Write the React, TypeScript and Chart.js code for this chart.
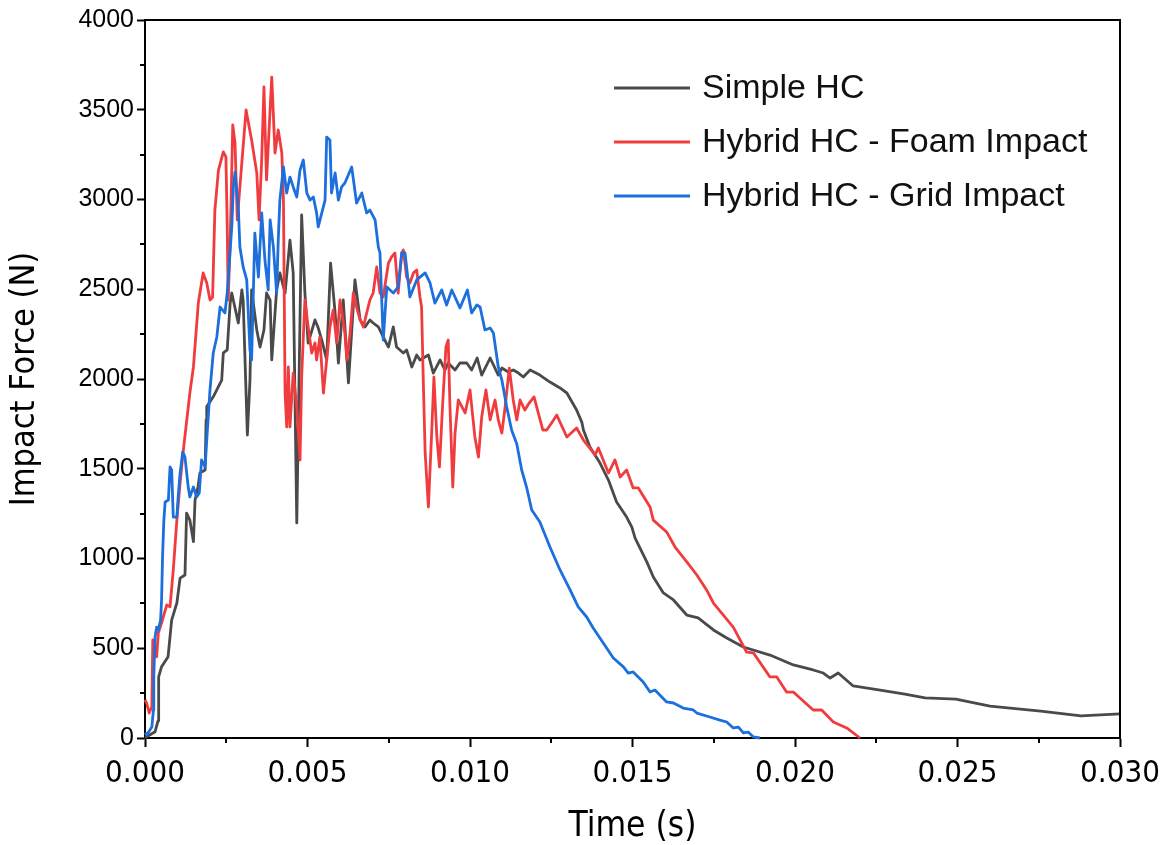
import React, { useEffect, useRef } from "react";
import { Chart, registerables } from "chart.js";

Chart.register(...registerables);

// ---- Data (time in seconds, force in newtons) ----
const simpleTime = [
  0, 0.00005, 0.00031, 0.0004, 0.00042, 0.00051, 0.00071, 0.00082, 0.00098, 0.00108,
  0.00123, 0.00128, 0.00138, 0.00149, 0.00154, 0.00163, 0.00169, 0.00185, 0.00188, 0.0019,
  0.0021, 0.00236, 0.00241, 0.00253, 0.00262, 0.00267, 0.00287, 0.00298, 0.00302, 0.00315,
  0.00323, 0.00328, 0.00344, 0.00354, 0.00366, 0.00374, 0.00385, 0.0039, 0.00405, 0.00415,
  0.00431, 0.00446, 0.00456, 0.00467, 0.00482, 0.00492, 0.00502, 0.00523, 0.00532, 0.00544,
  0.00559, 0.00571, 0.00585, 0.00595, 0.0061, 0.00626, 0.00646, 0.00662, 0.00677, 0.00692,
  0.00702, 0.00718, 0.00733, 0.00749, 0.00764, 0.00774, 0.00795, 0.00805, 0.00821, 0.00836,
  0.00846, 0.00872, 0.00887, 0.00908, 0.00923, 0.00933, 0.00954, 0.00969, 0.0099, 0.01005,
  0.01022, 0.01036, 0.01062, 0.01087, 0.01098, 0.01118, 0.01133, 0.01149, 0.01164, 0.01185,
  0.01215, 0.01246, 0.01277, 0.01298, 0.01328, 0.01344, 0.01349, 0.01369, 0.014, 0.01426,
  0.01451, 0.01482, 0.01498, 0.01508, 0.01544, 0.01564, 0.01595, 0.01626, 0.01667, 0.01702,
  0.01749, 0.0179, 0.01841, 0.01923, 0.01995, 0.02056, 0.02087, 0.02108, 0.02133, 0.02179,
  0.02262, 0.02338, 0.024, 0.02495, 0.026, 0.02756, 0.0288, 0.03,
];
const simpleForce = [
  0, 7, 35, 95, 340, 397, 453, 657, 752, 891,
  908, 1253, 1214, 1094, 1326, 1398, 1476, 1493, 1772, 1846,
  1901, 1994, 2145, 2162, 2423, 2479, 2312, 2496, 2440, 1688,
  1994, 2496, 2273, 2178, 2273, 2479, 2440, 2106, 2496, 2591,
  2479, 2774, 2591, 1198, 2914, 2479, 2200, 2329, 2290, 2217,
  2106, 2646, 2368, 2089, 2440, 1978, 2552, 2329, 2290, 2329,
  2312, 2290, 2234, 2178, 2290, 2178, 2145, 2162, 2067, 2134,
  2106, 2134, 2033, 2106, 2050, 2089, 2050, 2089, 2089, 2050,
  2117, 2022, 2117, 2022, 2061, 2039, 2050, 2033, 2011, 2050,
  2022, 1983, 1950, 1922, 1827, 1760, 1716, 1621, 1532, 1437,
  1315, 1231, 1175, 1114, 981, 897, 808, 769, 685, 669,
  602, 557, 507, 462, 407, 379, 362, 334, 362, 290,
  267, 245, 223, 217, 178, 150, 123, 134,
];

const foamTime = [
  0, 0.00005, 0.00013, 0.00021, 0.00024, 0.00031, 0.00036, 0.00041, 0.00051, 0.00067,
  0.00077, 0.00087, 0.00098, 0.00108, 0.00118, 0.00138, 0.00149, 0.00164, 0.00179, 0.0019,
  0.002, 0.00208, 0.00215, 0.00226, 0.00241, 0.00249, 0.00253, 0.00256, 0.00262, 0.0027,
  0.00277, 0.00284, 0.00292, 0.00311, 0.00328, 0.00344, 0.00351, 0.00359, 0.00366, 0.00374,
  0.0039, 0.004, 0.0041, 0.00421, 0.00426, 0.00431, 0.00436, 0.00441, 0.00446, 0.00456,
  0.00467, 0.00477, 0.00482, 0.00492, 0.00502, 0.00513, 0.00523, 0.00528, 0.00538, 0.00549,
  0.00559, 0.00569, 0.00579, 0.0059, 0.006, 0.00615, 0.00621, 0.00631, 0.00641, 0.00651,
  0.00662, 0.00672, 0.00682, 0.00692, 0.00702, 0.00713, 0.00723, 0.00733, 0.00749, 0.00759,
  0.00769, 0.00779, 0.0079, 0.00795, 0.00805, 0.00815, 0.00826, 0.00836, 0.00846, 0.00851,
  0.00856, 0.00862, 0.00872, 0.00882, 0.00889, 0.00898, 0.00906, 0.00916, 0.00926, 0.00933,
  0.00938, 0.00947, 0.00954, 0.00964, 0.00985, 0.01, 0.01015, 0.01026, 0.01036, 0.01049,
  0.01062, 0.01077, 0.01087, 0.01098, 0.01108, 0.01121, 0.01133, 0.01144, 0.01154, 0.01169,
  0.01182, 0.01197, 0.0121, 0.01224, 0.01236, 0.01251, 0.01267, 0.01298, 0.01328, 0.01349,
  0.01385, 0.01395, 0.01426, 0.01446, 0.01462, 0.01482, 0.01502, 0.01518, 0.01554, 0.01564,
  0.01605, 0.01631, 0.01667, 0.01698, 0.01728, 0.01749, 0.0181, 0.01851, 0.01872, 0.01923,
  0.01944, 0.01974, 0.01995, 0.02056, 0.02082, 0.02118, 0.02159, 0.022,
];
const foamForce = [
  212, 195, 139, 174, 546, 474, 453, 585, 641, 741,
  731, 936, 1214, 1421, 1604, 1922, 2067, 2423, 2591, 2535,
  2440, 2457, 2941, 3164, 3265, 3237, 2847, 2440, 2758, 3415,
  3315, 2886, 3070, 3499, 3331, 3148, 2886, 3220, 3627, 3109,
  3682, 3259, 3387, 3259, 2997, 1922, 1733, 2067, 1733, 2033,
  1844, 1549, 2011, 2440, 2290, 2145, 2201, 2106, 2234, 1922,
  2106, 2290, 2384, 2201, 2440, 2256, 2106, 2256, 2479, 2401,
  2329, 2290, 2368, 2440, 2479, 2624, 2479, 2457, 2646, 2680,
  2702, 2479, 2702, 2719, 2568, 2535, 2591, 2607, 2457, 2401,
  2011, 1588, 1287, 1699, 2011, 1677, 1510, 1866, 2178, 2217,
  1866, 1398, 1699, 1883, 1811, 1939, 1677, 1565, 1788, 1939,
  1772, 1883, 1772, 1699, 1844, 2061, 1883, 1772, 1883, 1827,
  1866, 1900, 1811, 1716, 1716, 1755, 1799, 1677, 1727, 1660,
  1577, 1616, 1476, 1549, 1454, 1493, 1393, 1393, 1287, 1214,
  1148, 1064, 981, 908, 825, 752, 618, 479, 474, 340,
  340, 256, 256, 156, 156, 89, 56, 0,
];

const gridTime = [
  0, 0.00005, 0.00021, 0.00026, 0.00027, 0.00031, 0.00036, 0.00041, 0.00048, 0.00051,
  0.00054, 0.00058, 0.00062, 0.00072, 0.00077, 0.00082, 0.00087, 0.00098, 0.00102, 0.00108,
  0.00116, 0.00123, 0.00133, 0.00138, 0.00149, 0.00159, 0.00167, 0.00174, 0.00185, 0.0019,
  0.002, 0.0021, 0.00221, 0.00231, 0.00246, 0.00253, 0.00267, 0.00272, 0.00277, 0.00287,
  0.00292, 0.00302, 0.00313, 0.00323, 0.00328, 0.00338, 0.00349, 0.00359, 0.00369, 0.00379,
  0.00385, 0.00395, 0.00405, 0.0041, 0.00415, 0.00426, 0.00436, 0.00446, 0.00456, 0.00467,
  0.00477, 0.00487, 0.00498, 0.00508, 0.00518, 0.00528, 0.00533, 0.00544, 0.00554, 0.00559,
  0.00569, 0.00574, 0.00585, 0.00595, 0.00605, 0.00615, 0.00636, 0.00651, 0.00667, 0.00682,
  0.00692, 0.00708, 0.00718, 0.00723, 0.00733, 0.00744, 0.00764, 0.00779, 0.0079, 0.008,
  0.00815, 0.00836, 0.00862, 0.00877, 0.00892, 0.00913, 0.00928, 0.00944, 0.00969, 0.00992,
  0.01005, 0.01021, 0.01031, 0.01046, 0.01062, 0.01072, 0.01087, 0.01098, 0.01113, 0.01128,
  0.01144, 0.01159, 0.01174, 0.0119, 0.01215, 0.01246, 0.01277, 0.01308, 0.01333, 0.01359,
  0.01379, 0.0141, 0.01441, 0.01472, 0.01487, 0.01502, 0.01533, 0.01554, 0.01569, 0.01605,
  0.01626, 0.01656, 0.01687, 0.01698, 0.01738, 0.01769, 0.0179, 0.0181, 0.01826, 0.01841,
  0.01856, 0.01872, 0.01892,
];
const gridForce = [
  28, 17, 61, 156, 340, 563, 618, 602, 657, 769,
  1008, 1214, 1315, 1326, 1510, 1493, 1231, 1231, 1343, 1476,
  1593, 1565, 1398, 1343, 1398, 1343, 1365, 1549, 1510, 1660,
  1939, 2145, 2234, 2401, 2368, 2479, 2847, 3070, 3153, 2958,
  2735, 2624, 2552, 2162, 2106, 2813, 2568, 2925, 2663, 2496,
  2886, 2735, 2479, 2774, 2997, 3181, 3036, 3125, 3070, 3014,
  3164, 3220, 3036, 2997, 3014, 2925, 2847, 2925, 2997, 3348,
  3331, 3036, 3148, 2997, 3070, 3092, 3181, 2980, 3036, 2925,
  2941, 2886, 2735, 2702, 2217, 2513, 2479, 2513, 2702, 2702,
  2457, 2552, 2591, 2535, 2423, 2496, 2412, 2496, 2396, 2496,
  2368, 2412, 2401, 2273, 2284, 2256, 2067, 1994, 1844, 1716,
  1638, 1493, 1398, 1270, 1203, 1064, 936, 825, 730, 674,
  613, 529, 446, 396, 362, 368, 312, 256, 267, 201,
  195, 167, 156, 139, 117, 100, 89, 56, 61, 28,
  33, 6, 0,
];

const seriesLabels = ["Simple HC", "Hybrid HC - Foam Impact", "Hybrid HC - Grid Impact"];
const seriesColors = ["#4a4a4a", "#f03c3e", "#1c6fdc"];
const yMinorTicks = [250, 750, 1250, 1750, 2250, 2750, 3250, 3750];
const xMinorTicks = [0.0025, 0.0075, 0.0125, 0.0175, 0.0225, 0.0275];
const xAxisTitle = "Time (s)";
const yAxisTitle = "Impact Force (N)";

const SANS = "'Liberation Sans', Arial, sans-serif";
const NARROW = "'Liberation Sans Narrow', 'Arial Narrow', 'DejaVu Sans Condensed', sans-serif";

function zip(t: number[], f: number[]) {
  const n = Math.min(t.length, f.length);
  const out: { x: number; y: number }[] = [];
  for (let i = 0; i < n; i++) out.push({ x: t[i], y: f[i] });
  return out;
}

const decorPlugin = {
  id: "decor",
  afterDraw(chart: any) {
    const { ctx, chartArea: a, scales } = chart;
    ctx.save();
    ctx.strokeStyle = "#000";
    ctx.lineWidth = 2;
    // frame (top + right)
    ctx.beginPath();
    ctx.moveTo(a.left, a.top);
    ctx.lineTo(a.right, a.top);
    ctx.lineTo(a.right, a.bottom);
    ctx.stroke();
    // minor ticks
    ctx.beginPath();
    yMinorTicks.forEach((v) => {
      const y = Math.round(scales.y.getPixelForValue(v));
      ctx.moveTo(a.left, y);
      ctx.lineTo(a.left - 5, y);
    });
    xMinorTicks.forEach((v) => {
      const x = Math.round(scales.x.getPixelForValue(v));
      ctx.moveTo(x, a.bottom);
      ctx.lineTo(x, a.bottom + 5);
    });
    ctx.stroke();
    // legend
    const lx0 = a.left + 469;
    const lx1 = a.left + 545;
    const tx = a.left + 557;
    const ly0 = a.top + 68;
    const gap = 54;
    ctx.font = "34px " + SANS;
    ctx.textBaseline = "middle";
    ctx.textAlign = "left";
    chart.data.datasets.forEach((ds: any, i: number) => {
      const y = ly0 + i * gap;
      ctx.strokeStyle = ds.borderColor;
      ctx.lineWidth = 2.8;
      ctx.beginPath();
      ctx.moveTo(lx0, y);
      ctx.lineTo(lx1, y);
      ctx.stroke();
      ctx.fillStyle = "#111";
      ctx.fillText(ds.label, tx, y + 1);
    });
    ctx.restore();
  },
};

export default function App() {
  const ref = useRef<HTMLCanvasElement | null>(null);
  useEffect(() => {
    if (!ref.current) return;
    const series = [
      zip(simpleTime, simpleForce),
      zip(foamTime, foamForce),
      zip(gridTime, gridForce),
    ];
    const chart = new Chart(ref.current, {
      type: "line",
      data: {
        datasets: series.map((d, i) => ({
          label: seriesLabels[i],
          data: d,
          borderColor: seriesColors[i],
          backgroundColor: seriesColors[i],
          borderWidth: 2.8,
          pointRadius: 0,
          tension: 0,
          fill: false,
          clip: 4,
          order: 3 - i,
          borderJoinStyle: "round" as const,
        })),
      },
      options: {
        animation: false,
        responsive: false,
        devicePixelRatio: 1,
        parsing: false as any,
        layout: { padding: { top: 20, right: 48, left: 0, bottom: 0 } },
        plugins: { legend: { display: false }, tooltip: { enabled: false } },
        scales: {
          x: {
            type: "linear",
            min: 0,
            max: 0.03,
            afterFit: (s: any) => {
              s.height = 107;
            },
            border: { display: true, color: "#000", width: 2 },
            grid: { drawOnChartArea: false, drawTicks: true, tickLength: 9, tickWidth: 2, tickColor: "#000" },
            ticks: {
              stepSize: 0.005,
              color: "#000",
              padding: 8,
              maxRotation: 0,
              font: { family: NARROW, size: 31 },
              callback: (v: any) => Number(v).toFixed(3),
            },
            title: {
              display: true,
              text: xAxisTitle,
              color: "#000",
              font: { family: NARROW, size: 35, lineHeight: 1 },
              padding: { top: 0, bottom: 1 },
            },
          },
          y: {
            type: "linear",
            min: 0,
            max: 4000,
            afterFit: (s: any) => {
              s.width = 145;
            },
            border: { display: true, color: "#000", width: 2 },
            grid: { drawOnChartArea: false, drawTicks: true, tickLength: 8, tickWidth: 2, tickColor: "#000" },
            ticks: {
              stepSize: 500,
              color: "#000",
              padding: 3,
              font: { family: SANS, size: 25 },
              callback: (v: any) => String(Math.round(Number(v))),
            },
            title: {
              display: true,
              text: yAxisTitle,
              color: "#000",
              font: { family: NARROW, size: 34, lineHeight: 1 },
              padding: { top: 8, bottom: 0 },
            },
          },
        },
      },
      plugins: [decorPlugin],
    });
    return () => chart.destroy();
  }, []);

  return (
    <div style={{ position: "absolute", left: 0, top: 0, width: 1168, height: 845, background: "#fff" }}>
      <canvas ref={ref} width={1168} height={845} style={{ width: 1168, height: 845 }} />
    </div>
  );
}
